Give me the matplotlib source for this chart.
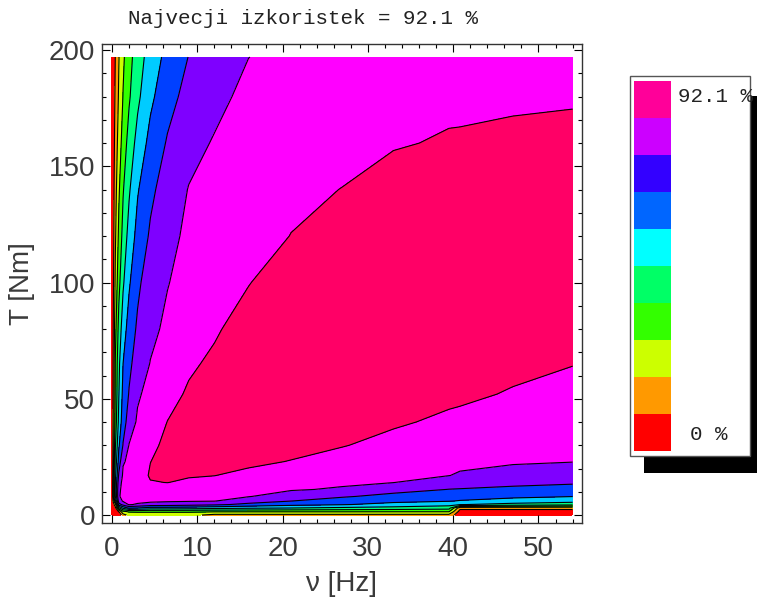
import numpy as np
import matplotlib
matplotlib.use('Agg')
import matplotlib.pyplot as plt
from matplotlib.patches import Rectangle
from matplotlib.ticker import MultipleLocator

# mreza meritev: frekvenca [Hz] in navor [Nm]
freq = [0, 0.4, 0.8, 1.3, 2, 3, 4.5, 6.5, 9, 12, 16, 21, 27, 33, 39.5, 40.8, 47, 54]
torque = [0, 1.5, 3, 4.5, 6, 8, 11, 14, 17, 23, 30, 40, 52, 65, 80, 100, 120, 140, 160, 180, 197]

# izkoristek [%], en seznam za vsako frekvenco (po navoru navzgor)
eff_by_freq = [
    [0, 0, 0, 0, 0, 0, 0, 0, 0, 0, 0, 0, 0, 0, 0, 0, 0, 0, 0, 0, 0],
    [0, 3, 7, 15, 35, 47, 49, 47, 44.4, 40, 36.4, 32, 29.6, 28.6, 25.0, 20.5, 17.4, 15.1, 12.7, 10.8, 9.5],
    [0, 10, 35, 60, 70, 73, 72, 70, 66, 59, 54, 48.5, 45.7, 44.0, 40.0, 34.0, 29.6, 26.2, 22.5, 19.5, 18.0],
    [15, 26, 48, 68, 74.5, 75.5, 76, 76, 75, 73, 65, 60.5, 57.8, 55.3, 51.0, 44.8, 40.0, 36.1, 31.7, 28.0, 26.0],
    [21, 29, 57, 74.5, 75.5, 76, 76.5, 76.5, 76, 75, 74, 68.5, 65, 62.5, 59, 54.1, 49.4, 44.9, 40.4, 35.7, 33.6],
    [21, 29.5, 55.3, 72.6, 76, 77, 78.5, 79.5, 79.5, 78.5, 77.5, 75, 72.5, 68.5, 66.0, 62.5, 58.3, 54.5, 49.2, 44.1, 41.7],
    [21, 29.5, 51.6, 70, 75.5, 77.8, 80.3, 82.5, 83.6, 82.8, 81.0, 79.0, 76.5, 74.0, 71.5, 69.8, 65.7, 62.5, 58.1, 53.3, 50.0],
    [21, 29.5, 51.6, 69.3, 74.7, 76.8, 79.8, 83.0, 84.2, 85.0, 84.8, 83.0, 80.5, 78.0, 75.5, 73.3, 71.4, 68.8, 65.3, 61.3, 58.0],
    [21, 29.5, 50.7, 68.0, 74.3, 76.2, 79.0, 81.7, 83.5, 85.5, 86.0, 85.3, 83.8, 81.8, 79.0, 77.0, 75.3, 74.0, 71.0, 67.5, 64.7],
    [16, 28.9, 49.0, 66.3, 73.9, 75.5, 78.0, 80.6, 83.0, 85.5, 86.8, 87.0, 86.0, 84.2, 82.0, 80.0, 78.5, 77.0, 74.3, 71.4, 69.6],
    [16, 28.8, 47.3, 62.2, 68.6, 74.1, 76.4, 78.6, 81.0, 84.5, 86.5, 88.0, 88.5, 88.0, 86.0, 82.6, 80.5, 79.3, 77.5, 75.8, 73.6],
    [16, 28.8, 46.0, 58.2, 64.5, 69.3, 74.5, 76.5, 78.5, 82.6, 85.5, 88.0, 89.5, 90.0, 89.5, 87.0, 83.0, 81.5, 79.7, 78.3, 76.0],
    [16, 28.8, 44.2, 55.9, 60.0, 65.5, 72.7, 75.1, 76.6, 79.7, 83.3, 86.5, 88.8, 90.2, 91.0, 90.6, 88.5, 83.0, 81.0, 80.0, 78.0],
    [16, 28.6, 42.7, 52.4, 57.4, 61.6, 67.9, 73.8, 75.0, 77.4, 80.3, 84.0, 86.0, 88.0, 90.0, 91.2, 90.5, 87.5, 82.0, 80.4, 79.2],
    [16, 28.5, 40.7, 49.1, 55.7, 59.0, 64.3, 69.1, 73.8, 75.7, 78.0, 81.3, 84.8, 87.5, 90.0, 92.0, 91.5, 89.2, 83.9, 80.7, 79.9],
    [2, 5.5, 12, 46.5, 54.7, 58.7, 64.0, 68.5, 72.9, 75.4, 77.7, 80.8, 84.5, 87.5, 90.0, 92.1, 91.6, 89.3, 84.0, 80.8, 80.0],
    [2, 5.5, 12, 43, 51.5, 57.2, 62.5, 66.8, 70.4, 74.6, 76.4, 79.0, 82.2, 85.0, 88.0, 90.5, 91.0, 89.7, 85.5, 81.0, 79.8],
    [2, 5.5, 12, 40.3, 49.2, 55.5, 61.0, 65.6, 68.6, 73.9, 75.4, 77.6, 80.3, 83.1, 85.5, 87.5, 88.2, 87.3, 85.3, 82.0, 80.2],
]

max_eff = 92.1

# barve pasov od 0 % navzgor
band_colors = ['#FF0000', '#FF9900', '#CCFF00', '#33FF00', '#00FF80',
               '#00CCFF', '#0040FF', '#7F00FF', '#FF00FF', '#FF0066']
# barve v legendi (od zgoraj navzdol)
legend_colors = ['#FF0099', '#CC00FF', '#3300FF', '#0066FF', '#00FFFF',
                 '#00FF66', '#33FF00', '#CCFF00', '#FF9900', '#FF0000']

x_ticks = [0, 10, 20, 30, 40, 50]
y_ticks = [0, 50, 100, 150, 200]

sans = ['Liberation Sans', 'DejaVu Sans']
mono = ['Liberation Mono', 'DejaVu Sans Mono']

eff = np.array(eff_by_freq).T
levels = [max_eff * i / 10 for i in range(11)]
fill_levels = levels[:-1] + [100]

fig = plt.figure(figsize=(7.57, 6.02), dpi=100)
ax = fig.add_axes([102 / 757, 1 - 523 / 602, 480 / 757, 479 / 602])

ax.contourf(freq, torque, eff, levels=fill_levels, colors=band_colors)
ax.contour(freq, torque, eff, levels=levels[1:-1], colors='k', linewidths=0.8)

ax.set_xlim(-1.17, 55.1)
ax.set_ylim(-3.44, 202.6)
ax.set_xticks(x_ticks)
ax.set_yticks(y_ticks)
ax.xaxis.set_minor_locator(MultipleLocator(2))
ax.yaxis.set_minor_locator(MultipleLocator(10))
ax.tick_params(which='both', direction='in', top=True, right=True, width=0.8)
ax.tick_params(which='major', length=6)
ax.tick_params(which='minor', length=3)
ax.tick_params(axis='x', pad=9)
ax.tick_params(axis='y', pad=5)
for lab in ax.get_xticklabels() + ax.get_yticklabels():
    lab.set_family(sans)
    lab.set_fontsize(20)
    lab.set_color('#3a3a3a')
for sp in ax.spines.values():
    sp.set_linewidth(1.0)
    sp.set_color('#333333')

fig.text(303 / 757, 1 - 19 / 602, 'Najvecji izkoristek = 92.1 %', family=mono,
         fontsize=15, ha='center', va='center', color='#222222')
fig.text(342 / 757, 1 - 584 / 602, '\u03bd [Hz]', family=sans, fontsize=20,
         ha='center', va='center', color='#3a3a3a')
fig.text(22 / 757, 1 - 284 / 602, 'T [Nm]', family=sans, fontsize=20,
         rotation=90, ha='center', va='center', color='#3a3a3a')

# legenda s senco
fig.patches.append(Rectangle((644 / 757, 1 - 473 / 602), 113 / 757, 377 / 602,
                             transform=fig.transFigure, facecolor='black',
                             edgecolor='none', zorder=1))
fig.patches.append(Rectangle((630 / 757, 1 - 456 / 602), 120 / 757, 380 / 602,
                             transform=fig.transFigure, facecolor='white',
                             edgecolor='#555555', linewidth=1.0, zorder=2))
sw_top = 81
sw_h = 37
for i, c in enumerate(legend_colors):
    y0 = sw_top + i * sw_h
    fig.patches.append(Rectangle((634 / 757, 1 - (y0 + sw_h) / 602), 37 / 757, sw_h / 602,
                                 transform=fig.transFigure, facecolor=c,
                                 edgecolor='none', zorder=3))
fig.text(678 / 757, 1 - 97 / 602, '92.1 %', family=mono, fontsize=15,
         ha='left', va='center', color='#222222', zorder=4)
fig.text(690 / 757, 1 - 434 / 602, '0 %', family=mono, fontsize=15,
         ha='left', va='center', color='#222222', zorder=4)

fig.savefig('out.png', dpi=100)
